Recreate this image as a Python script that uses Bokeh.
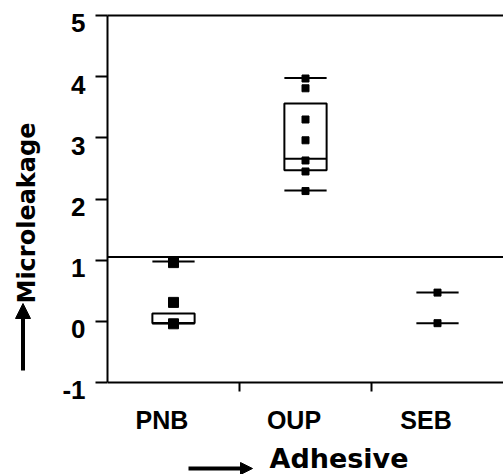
from bokeh.plotting import figure
from bokeh.layouts import row, column
from bokeh.models import (Range1d, LinearAxis, FixedTicker, Span, Arrow, NormalHead,
                          ColumnDataSource)
from bokeh.core.properties import value
from bokeh.embed import file_html
from bokeh.resources import INLINE

# ---------------- data ----------------
categories = ["PNB", "OUP", "SEB"]
y_ticks = [-1, 0, 1, 2, 3, 4, 5]

pnb_points = [0.96, 0.31, -0.04]
oup_points = [3.97, 3.81, 3.30, 2.96, 2.63, 2.45, 2.13]
seb_points = [0.47, -0.03]

box_q1 = [-0.03, 2.47, float("nan")]
box_median = [-0.03, 2.66, float("nan")]
box_q3 = [0.13, 3.56, float("nan")]
cap_low = [-0.03, 2.14, -0.03]
cap_high = [0.98, 3.98, 0.47]

reference_line = 1.05

y_title = "Microleakage"
x_title = "Adhesive"

# ---------------- styles / layout ----------------
FONT = "DejaVu Sans"
TICK_FONT = "Liberation Sans"
marker_sizes = [10, 7, 7]
BOX_W = 0.32
X_LABEL_SHIFT = 0.087   # category-label offset (in category units)
Y_LABEL_SHIFT = 0.13    # tick-label offset (in y units)
Y_PAD_BOTTOM = 0.294    # empty frame space below the x axis line (in y units)

ROW_H = 438             # height of the plot row
B_H = 474 - ROW_H       # height of the bottom title strip
L_W = 45                # width of the left title strip
BORDER_TOP = 15
BORDER_BOTTOM = ROW_H - 400
FRAME_H = ROW_H - BORDER_TOP - BORDER_BOTTOM

centers = [i + 0.5 for i in range(len(categories))]
y_lo, y_hi = y_ticks[0], y_ticks[-1]

# ---------------- main plot ----------------
p = figure(width=503 - L_W, height=ROW_H,
           x_range=Range1d(0, len(categories)),
           y_range=Range1d(y_lo - Y_PAD_BOTTOM, y_hi),
           output_backend="svg", toolbar_location=None,
           min_border_left=107 - L_W, min_border_right=0,
           min_border_top=BORDER_TOP, min_border_bottom=BORDER_BOTTOM,
           outline_line_color=None, background_fill_color="white", border_fill_color="white",
           x_axis_location=None, y_axis_location=None)
p.grid.visible = False

# y axis: line + tick marks only
ya = LinearAxis(ticker=FixedTicker(ticks=[], minor_ticks=y_ticks), bounds=(y_lo, y_hi),
                axis_line_width=2, minor_tick_out=12, minor_tick_in=0,
                minor_tick_line_width=2, major_tick_line_color=None, major_label_standoff=0)
p.add_layout(ya, "left")

# y tick labels
p.extra_y_ranges = {"ylab": Range1d(y_lo - Y_PAD_BOTTOM + Y_LABEL_SHIFT, y_hi + Y_LABEL_SHIFT)}
ylab = LinearAxis(y_range_name="ylab", ticker=FixedTicker(ticks=y_ticks),
                  major_label_overrides={t: str(t) for t in y_ticks},
                  axis_line_color=None, major_tick_line_color=None, minor_tick_line_color=None,
                  major_tick_out=0, major_tick_in=0, major_label_standoff=10,
                  major_label_text_font=TICK_FONT, major_label_text_font_style="bold",
                  major_label_text_font_size="26px", major_label_text_color="black")
p.add_layout(ylab, "left")

# x axis line + boundary ticks at y = -1
xa = LinearAxis(ticker=FixedTicker(ticks=[], minor_ticks=list(range(1, len(categories)))),
                fixed_location=y_lo, axis_line_width=2, minor_tick_out=9, minor_tick_in=0,
                minor_tick_line_width=2, major_tick_line_color=None, major_label_standoff=0)
p.add_layout(xa, "below")

# category labels
p.extra_x_ranges = {"xlab": Range1d(0 + X_LABEL_SHIFT, len(categories) + X_LABEL_SHIFT)}
xlab = LinearAxis(x_range_name="xlab", ticker=FixedTicker(ticks=centers),
                  major_label_overrides={c: n for c, n in zip(centers, categories)},
                  axis_line_color=None, major_tick_line_color=None, minor_tick_line_color=None,
                  major_tick_out=0, major_tick_in=0, major_label_standoff=5,
                  major_label_text_font=TICK_FONT, major_label_text_font_style="bold",
                  major_label_text_font_size="25px", major_label_text_color="black")
p.add_layout(xlab, "below")

# top border line
top = LinearAxis(ticker=FixedTicker(ticks=[], minor_ticks=[]), axis_line_width=2,
                 major_tick_line_color=None, minor_tick_line_color=None,
                 major_tick_out=0, minor_tick_out=0, major_label_standoff=0)
p.add_layout(top, "above")

# reference line
p.add_layout(Span(location=reference_line, dimension="width", line_color="black", line_width=2))

# boxes and caps
box_src = ColumnDataSource(dict(
    left=[c - BOX_W / 2 for c in centers], right=[c + BOX_W / 2 for c in centers],
    q1=box_q1, q3=box_q3, med=box_median, lo=cap_low, hi=cap_high, x=centers))
p.quad(left="left", right="right", bottom="q1", top="q3", source=box_src,
       fill_color=None, line_color="black", line_width=2)
p.segment(x0="left", x1="right", y0="med", y1="med", source=box_src,
          line_color="black", line_width=2)
p.segment(x0="left", x1="right", y0="lo", y1="lo", source=box_src,
          line_color="black", line_width=2)
p.segment(x0="left", x1="right", y0="hi", y1="hi", source=box_src,
          line_color="black", line_width=2)

# points
all_points = [pnb_points, oup_points, seb_points]
px, py, ps = [], [], []
for c, pts, s in zip(centers, all_points, marker_sizes):
    px += [c] * len(pts)
    py += pts
    ps += [s] * len(pts)
p.scatter(x=px, y=py, size=ps, marker="square", fill_color="black", line_color="black")

# ---------------- y title strip (left) ----------------
# frame of this strip is aligned with the main frame (page y 15..400); data y = 400 - page y
left_fig = figure(width=L_W, height=ROW_H, x_range=Range1d(0, L_W), y_range=Range1d(0, FRAME_H),
                  output_backend="svg", toolbar_location=None,
                  min_border_left=0, min_border_right=0,
                  min_border_top=BORDER_TOP, min_border_bottom=BORDER_BOTTOM,
                  outline_line_color=None,
                  background_fill_color="white", border_fill_color="white",
                  x_axis_location=None, y_axis_location=None)
left_fig.grid.visible = False
left_fig.text(x=[26.7], y=[400 - 212.5], text=[y_title], angle=90, angle_units="deg",
              text_align="center", text_baseline="middle",
              text_font=value(FONT), text_font_style=value("bold"),
              text_font_size=value("24px"), text_color="black")
left_fig.add_layout(Arrow(end=NormalHead(size=15, fill_color="black", line_color="black"),
                          x_start=22.5, y_start=400 - 370, x_end=22.5, y_end=400 - 303,
                          line_color="black", line_width=4))

# ---------------- x title strip (bottom) ----------------
# data y = 474 - page y
bottom_fig = figure(width=503, height=B_H, x_range=Range1d(0, 503), y_range=Range1d(0, B_H),
                    output_backend="svg", toolbar_location=None,
                    min_border=0, outline_line_color=None,
                    background_fill_color="white", border_fill_color="white",
                    x_axis_location=None, y_axis_location=None)
bottom_fig.grid.visible = False
bottom_fig.text(x=[338.5], y=[474 - 458.2], text=[x_title],
                text_align="center", text_baseline="middle",
                text_font=value(FONT), text_font_style=value("bold"),
                text_font_size=value("27px"), text_color="black")
bottom_fig.add_layout(Arrow(end=NormalHead(size=12, fill_color="black", line_color="black"),
                            x_start=188, y_start=474 - 468, x_end=252, y_end=474 - 468,
                            line_color="black", line_width=4))

layout = column(row(left_fig, p), bottom_fig)

open("out.html", "w").write(file_html(layout, INLINE))
